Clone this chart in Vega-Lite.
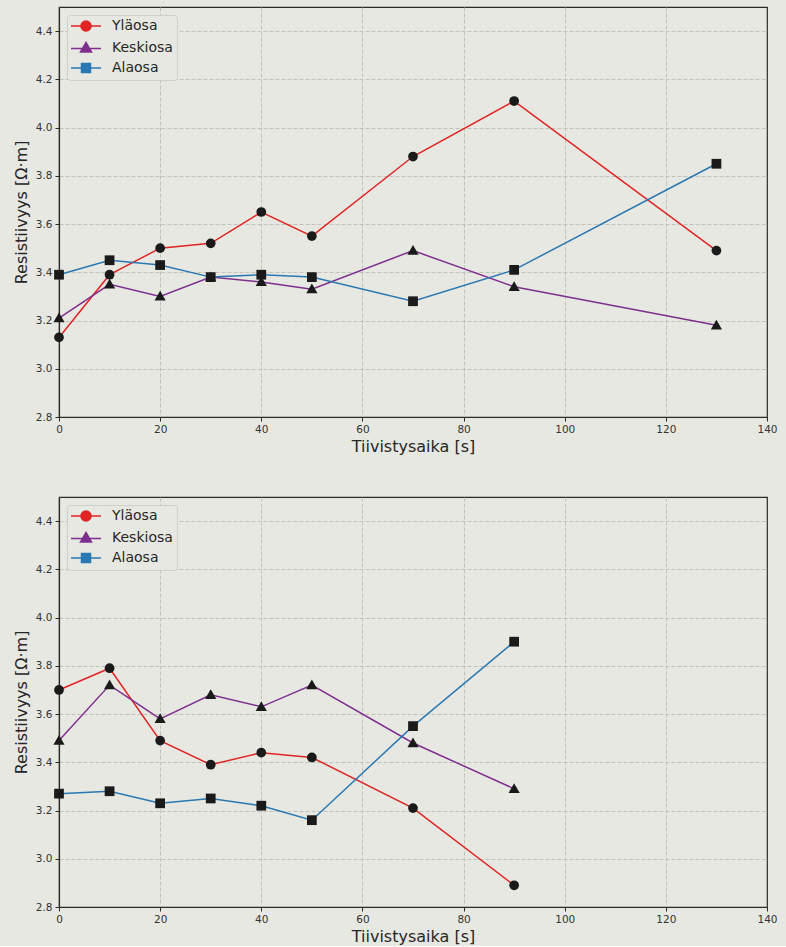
{
  "$schema": "https://vega.github.io/schema/vega-lite/v6.json",
  "autosize": {"type": "pad"},
  "padding": {"left": 12, "top": 6, "right": 19, "bottom": 0},
  "background": "#e8e8e2",
  "bounds": "flush",
  "spacing": 80,
  "config": {
    "font": "DejaVu Sans",
    "view": {"stroke": "#2b2b2b", "strokeWidth": 1.2, "fill": "#e8e8e2"},
    "axis": {
      "domainColor": "#2b2b2b",
      "domainWidth": 1.2,
      "tickColor": "#2b2b2b",
      "tickSize": 4,
      "tickWidth": 1,
      "labelFont": "DejaVu Sans",
      "labelFontSize": 10.5,
      "labelColor": "#333333",
      "labelPadding": 3,
      "labelFlush": false,
      "titleFont": "DejaVu Sans",
      "titleFontSize": 16,
      "titleFontWeight": "normal",
      "titleColor": "#262626",
      "gridColor": {"condition": {"test": "datum.value === 140", "value": "transparent"}, "value": "#bdbdb8"},
      "gridDash": [4, 2],
      "gridWidth": 0.9
    },
    "legend": {
      "orient": "top-left",
      "offset": 8,
      "padding": 4,
      "fillColor": "#e8e8e2",
      "strokeColor": "#cfcfca",
      "cornerRadius": 3,
      "labelFont": "DejaVu Sans",
      "labelFontSize": 14,
      "labelColor": "#262626",
      "symbolSize": 100,
      "symbolOffset": 8,
      "labelOffset": 19,
      "rowPadding": 5
    }
  },
  "data": {
    "values": [
      {"panel": 1, "series": "Yläosa", "time": 0, "value": 3.13},
      {"panel": 1, "series": "Yläosa", "time": 10, "value": 3.39},
      {"panel": 1, "series": "Yläosa", "time": 20, "value": 3.5},
      {"panel": 1, "series": "Yläosa", "time": 30, "value": 3.52},
      {"panel": 1, "series": "Yläosa", "time": 40, "value": 3.65},
      {"panel": 1, "series": "Yläosa", "time": 50, "value": 3.55},
      {"panel": 1, "series": "Yläosa", "time": 70, "value": 3.88},
      {"panel": 1, "series": "Yläosa", "time": 90, "value": 4.11},
      {"panel": 1, "series": "Yläosa", "time": 130, "value": 3.49},
      {"panel": 1, "series": "Keskiosa", "time": 0, "value": 3.21},
      {"panel": 1, "series": "Keskiosa", "time": 10, "value": 3.35},
      {"panel": 1, "series": "Keskiosa", "time": 20, "value": 3.3},
      {"panel": 1, "series": "Keskiosa", "time": 30, "value": 3.38},
      {"panel": 1, "series": "Keskiosa", "time": 40, "value": 3.36},
      {"panel": 1, "series": "Keskiosa", "time": 50, "value": 3.33},
      {"panel": 1, "series": "Keskiosa", "time": 70, "value": 3.49},
      {"panel": 1, "series": "Keskiosa", "time": 90, "value": 3.34},
      {"panel": 1, "series": "Keskiosa", "time": 130, "value": 3.18},
      {"panel": 1, "series": "Alaosa", "time": 0, "value": 3.39},
      {"panel": 1, "series": "Alaosa", "time": 10, "value": 3.45},
      {"panel": 1, "series": "Alaosa", "time": 20, "value": 3.43},
      {"panel": 1, "series": "Alaosa", "time": 30, "value": 3.38},
      {"panel": 1, "series": "Alaosa", "time": 40, "value": 3.39},
      {"panel": 1, "series": "Alaosa", "time": 50, "value": 3.38},
      {"panel": 1, "series": "Alaosa", "time": 70, "value": 3.28},
      {"panel": 1, "series": "Alaosa", "time": 90, "value": 3.41},
      {"panel": 1, "series": "Alaosa", "time": 130, "value": 3.85},
      {"panel": 2, "series": "Yläosa", "time": 0, "value": 3.7},
      {"panel": 2, "series": "Yläosa", "time": 10, "value": 3.79},
      {"panel": 2, "series": "Yläosa", "time": 20, "value": 3.49},
      {"panel": 2, "series": "Yläosa", "time": 30, "value": 3.39},
      {"panel": 2, "series": "Yläosa", "time": 40, "value": 3.44},
      {"panel": 2, "series": "Yläosa", "time": 50, "value": 3.42},
      {"panel": 2, "series": "Yläosa", "time": 70, "value": 3.21},
      {"panel": 2, "series": "Yläosa", "time": 90, "value": 2.89},
      {"panel": 2, "series": "Keskiosa", "time": 0, "value": 3.49},
      {"panel": 2, "series": "Keskiosa", "time": 10, "value": 3.72},
      {"panel": 2, "series": "Keskiosa", "time": 20, "value": 3.58},
      {"panel": 2, "series": "Keskiosa", "time": 30, "value": 3.68},
      {"panel": 2, "series": "Keskiosa", "time": 40, "value": 3.63},
      {"panel": 2, "series": "Keskiosa", "time": 50, "value": 3.72},
      {"panel": 2, "series": "Keskiosa", "time": 70, "value": 3.48},
      {"panel": 2, "series": "Keskiosa", "time": 90, "value": 3.29},
      {"panel": 2, "series": "Alaosa", "time": 0, "value": 3.27},
      {"panel": 2, "series": "Alaosa", "time": 10, "value": 3.28},
      {"panel": 2, "series": "Alaosa", "time": 20, "value": 3.23},
      {"panel": 2, "series": "Alaosa", "time": 30, "value": 3.25},
      {"panel": 2, "series": "Alaosa", "time": 40, "value": 3.22},
      {"panel": 2, "series": "Alaosa", "time": 50, "value": 3.16},
      {"panel": 2, "series": "Alaosa", "time": 70, "value": 3.55},
      {"panel": 2, "series": "Alaosa", "time": 90, "value": 3.9}
    ]
  },
  "resolve": {"legend": {"color": "independent"}},
  "vconcat": [
    {
      "width": 708,
      "height": 410,
      "transform": [{"filter": "datum.panel === 1"}],
      "encoding": {
        "x": {"field": "time", "type": "quantitative", "title": "Tiivistysaika [s]",
              "scale": {"domain": [0, 140], "nice": false},
              "axis": {"values": [0, 20, 40, 60, 80, 100, 120, 140], "titlePadding": 4}},
        "y": {"field": "value", "type": "quantitative", "title": "Resistiivyys [Ω·m]",
              "scale": {"domain": [2.8, 4.5], "nice": false, "zero": false},
              "axis": {"values": [2.8, 3.0, 3.2, 3.4, 3.6, 3.8, 4.0, 4.2, 4.4], "format": ".1f", "titlePadding": 6}}
      },
      "layer": [
        {
          "mark": {"type": "line", "strokeWidth": 1.5},
          "encoding": {
            "color": {"field": "series", "type": "nominal", "title": null,
                      "scale": {"domain": ["Yläosa", "Keskiosa", "Alaosa"], "range": ["#e02424", "#7e2f8e", "#2a78b2"]},
                      "legend": {
                        "encode": {"symbols": {"update": {
                          "shape": {"signal": "datum.value === 'Yläosa' ? 'M-3,0H3M1,0A1,1,0,1,1,-1,0A1,1,0,1,1,1,0Z' : datum.value === 'Keskiosa' ? 'M-3,0.1H3M0,-1.1L1.1,0.8H-1.1Z' : 'M-3,0H3M-0.9,-0.9H0.9V0.9H-0.9Z'"},
                          "fill": {"signal": "datum.value === 'Yläosa' ? '#e02424' : datum.value === 'Keskiosa' ? '#7e2f8e' : '#2a78b2'"},
                          "stroke": {"signal": "datum.value === 'Yläosa' ? '#e02424' : datum.value === 'Keskiosa' ? '#7e2f8e' : '#2a78b2'"},
                          "strokeWidth": {"value": 1.5},
                          "opacity": {"value": 1}
                        }}}
                      }},
            "detail": {"field": "series"}
          }
        },
        {
          "mark": {"type": "point", "filled": true, "opacity": 1, "size": 95, "color": "#1a1a1a"},
          "encoding": {
            "shape": {"field": "series", "type": "nominal",
                      "scale": {"domain": ["Yläosa", "Keskiosa", "Alaosa"], "range": ["circle", "M0,-1.15L1.15,0.85H-1.15Z", "square"]},
                      "legend": null}
          }
        }
      ]
    },
    {
      "width": 708,
      "height": 410,
      "transform": [{"filter": "datum.panel === 2"}],
      "encoding": {
        "x": {"field": "time", "type": "quantitative", "title": "Tiivistysaika [s]",
              "scale": {"domain": [0, 140], "nice": false},
              "axis": {"values": [0, 20, 40, 60, 80, 100, 120, 140], "titlePadding": 4}},
        "y": {"field": "value", "type": "quantitative", "title": "Resistiivyys [Ω·m]",
              "scale": {"domain": [2.8, 4.5], "nice": false, "zero": false},
              "axis": {"values": [2.8, 3.0, 3.2, 3.4, 3.6, 3.8, 4.0, 4.2, 4.4], "format": ".1f", "titlePadding": 6}}
      },
      "layer": [
        {
          "mark": {"type": "line", "strokeWidth": 1.5},
          "encoding": {
            "color": {"field": "series", "type": "nominal", "title": null,
                      "scale": {"domain": ["Yläosa", "Keskiosa", "Alaosa"], "range": ["#e02424", "#7e2f8e", "#2a78b2"]},
                      "legend": {
                        "encode": {"symbols": {"update": {
                          "shape": {"signal": "datum.value === 'Yläosa' ? 'M-3,0H3M1,0A1,1,0,1,1,-1,0A1,1,0,1,1,1,0Z' : datum.value === 'Keskiosa' ? 'M-3,0.1H3M0,-1.1L1.1,0.8H-1.1Z' : 'M-3,0H3M-0.9,-0.9H0.9V0.9H-0.9Z'"},
                          "fill": {"signal": "datum.value === 'Yläosa' ? '#e02424' : datum.value === 'Keskiosa' ? '#7e2f8e' : '#2a78b2'"},
                          "stroke": {"signal": "datum.value === 'Yläosa' ? '#e02424' : datum.value === 'Keskiosa' ? '#7e2f8e' : '#2a78b2'"},
                          "strokeWidth": {"value": 1.5},
                          "opacity": {"value": 1}
                        }}}
                      }},
            "detail": {"field": "series"}
          }
        },
        {
          "mark": {"type": "point", "filled": true, "opacity": 1, "size": 95, "color": "#1a1a1a"},
          "encoding": {
            "shape": {"field": "series", "type": "nominal",
                      "scale": {"domain": ["Yläosa", "Keskiosa", "Alaosa"], "range": ["circle", "M0,-1.15L1.15,0.85H-1.15Z", "square"]},
                      "legend": null}
          }
        }
      ]
    }
  ]
}
